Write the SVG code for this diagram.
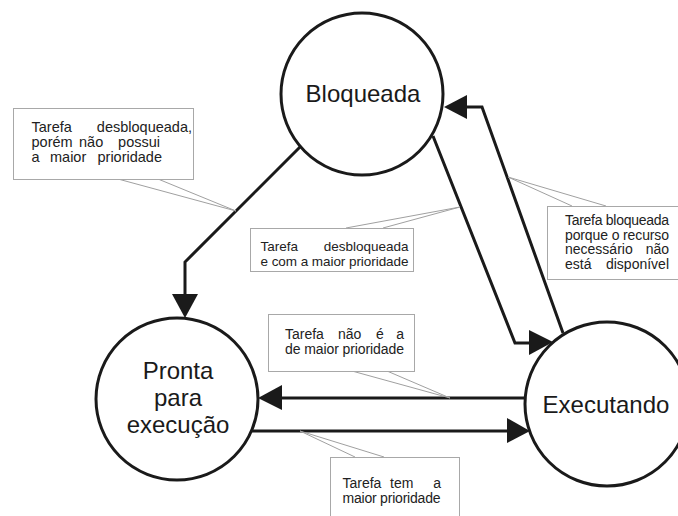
<svg xmlns="http://www.w3.org/2000/svg" width="678" height="516" viewBox="0 0 678 516">
<style>
.node{fill:#fff;stroke:#1a1a1a;stroke-width:3}
.nt{font-family:"Liberation Sans",Arial,sans-serif;font-size:24px;fill:#1a1a1a;text-anchor:middle}
.wire{fill:none;stroke:#1a1a1a;stroke-width:3;stroke-linejoin:miter}
.head{fill:#1a1a1a;stroke:none}
.box{fill:#fff;stroke:#a8a8a8;stroke-width:1}
.ptr{fill:none;stroke:#a0a0a0;stroke-width:1}
.lt{font-family:"Liberation Sans",Arial,sans-serif;fill:#222}
.e{text-anchor:end}
</style>
<rect width="678" height="516" fill="#fff"/>
<g id="node-bloqueada">
<circle class="node" cx="362" cy="94" r="81"/>
<text class="nt" x="363" y="102">Bloqueada</text>
</g>
<g id="node-pronta">
<circle class="node" cx="177" cy="399" r="81"/>
<text class="nt" x="178" y="379">Pronta</text>
<text class="nt" x="178" y="406">para</text>
<text class="nt" x="178" y="433">execução</text>
</g>
<g id="node-executando">
<circle class="node" cx="607" cy="404" r="82"/>
<text class="nt" x="606" y="413">Executando</text>
</g>
<g id="connectors">
<polyline class="wire" points="300,147 185,262 185,296"/>
<polygon class="head" points="172,294 198,294 185,318"/>
<polyline class="wire" points="433,136 515,343 531,343"/>
<polygon class="head" points="529,330 529,355 553,342"/>
<polyline class="wire" points="563,333 482,107 466,107"/>
<polygon class="head" points="467,95 467,119 444,107"/>
<line class="wire" x1="526" y1="398" x2="280" y2="398"/>
<polygon class="head" points="282,385 282,410 258,398"/>
<line class="wire" x1="252" y1="431" x2="508" y2="431"/>
<polygon class="head" points="507,418 507,443 530,431"/>
</g>
<g id="labels">
<g id="label-desbloqueada-nao-prioridade">
<polyline class="ptr" points="118,179 236,211 158,179"/>
<rect class="box" x="13.5" y="108.5" width="180" height="71"/>
<text class="lt" font-size="14.5" y="132"><tspan x="31.5">Tarefa</tspan><tspan class="e" x="192">desbloqueada,</tspan></text>
<text class="lt" font-size="14.5" y="147"><tspan x="31.5">porém</tspan><tspan x="79">não</tspan><tspan class="e" x="160">possui</tspan></text>
<text class="lt" font-size="14.5" y="162"><tspan x="31.5">a</tspan><tspan x="50">maior</tspan><tspan class="e" x="162">prioridade</tspan></text>
</g>
<g id="label-desbloqueada-prioridade">
<polyline class="ptr" points="346,228 460,207 383,228"/>
<rect class="box" x="250.5" y="228.5" width="163" height="43"/>
<text class="lt" font-size="13.5" y="251"><tspan x="260.5">Tarefa</tspan><tspan class="e" x="408.5">desbloqueada</tspan></text>
<text class="lt" font-size="13.5" y="266" textLength="148" lengthAdjust="spacing" x="260.5">e com a maior prioridade</text>
</g>
<g id="label-bloqueada">
<polyline class="ptr" points="572,206 508,177 606,206"/>
<rect class="box" x="547.5" y="206.5" width="131" height="73"/>
<text class="lt" font-size="14" y="225" x="565" textLength="104" lengthAdjust="spacing">Tarefa bloqueada</text>
<text class="lt" font-size="14" y="239.5" x="565" textLength="104" lengthAdjust="spacing">porque o recurso</text>
<text class="lt" font-size="14" y="254"><tspan x="565">necessário</tspan><tspan class="e" x="669">não</tspan></text>
<text class="lt" font-size="14" y="268.5"><tspan x="565">está</tspan><tspan class="e" x="669">disponível</tspan></text>
</g>
<g id="label-nao-prioridade">
<polyline class="ptr" points="352,371 450,398 387,371"/>
<rect class="box" x="268.5" y="314.5" width="146" height="57"/>
<text class="lt" font-size="14" y="338.5"><tspan x="285">Tarefa</tspan><tspan x="338">não</tspan><tspan x="376">é</tspan><tspan class="e" x="404">a</tspan></text>
<text class="lt" font-size="14" y="354" x="285" textLength="119" lengthAdjust="spacing">de maior prioridade</text>
</g>
<g id="label-tem-prioridade">
<polyline class="ptr" points="355,457 300,431 384,457"/>
<rect class="box" x="330.5" y="457.5" width="129" height="70"/>
<text class="lt" font-size="14" y="488"><tspan x="342.5">Tarefa</tspan><tspan x="390">tem</tspan><tspan class="e" x="441">a</tspan></text>
<text class="lt" font-size="14" y="503" x="342.5" textLength="98" lengthAdjust="spacing">maior prioridade</text>
</g>
</g>
</svg>
